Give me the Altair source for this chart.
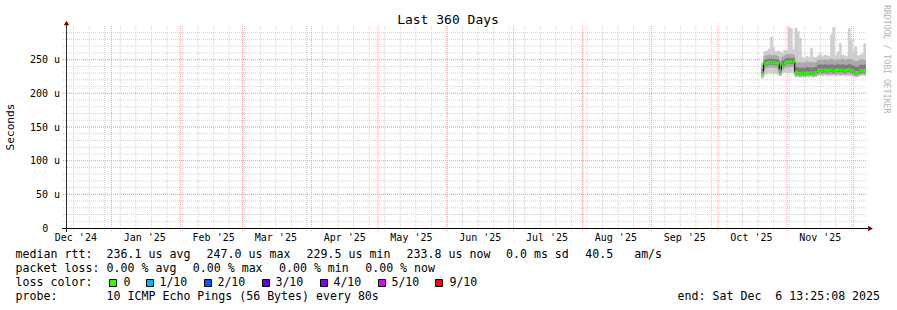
import altair as alt
import pandas as pd

FONT = "DejaVu Sans Mono"

# ---------------- data (microseconds), one value per day from 2025-10-20 12:00 UTC ----------------
data_start = "2025-10-20T12:00:00"
median_us = [231, 244, 245, 246, 245.5, 246, 245, 244.5, 234, 242.5,
             245, 246.5, 246.5, 247, 246.5, 231.5, 230, 229.5, 230, 229.5,
             230.5, 230, 230.5, 230, 231, 234, 234.5, 234, 235, 234,
             234.5, 235, 234, 234.5, 235, 234.5, 235, 234, 234.5, 235,
             234, 233, 231, 231.5, 234, 234, 233.8]
ping_min = [222, 228, 229, 230, 229, 230, 229, 228, 226, 230,
            231, 231, 230, 231, 230, 224, 225, 224, 225, 224,
            225, 224, 225, 224, 225, 226, 227, 226, 227, 226,
            227, 226, 227, 226, 227, 226, 227, 226, 227, 226,
            226, 225, 224, 225, 226, 227, 226]
ping_lo2 = [225, 236, 238, 239, 238, 239, 238, 237, 227, 235,
            238, 239, 239, 240, 239, 226, 226, 225, 226, 225,
            226, 226, 226, 225, 226, 228, 228, 228, 229, 228,
            228, 229, 228, 228, 229, 228, 229, 228, 228, 229,
            228, 227, 225, 226, 228, 228, 228]
ping_lo3 = [229, 241, 242, 243, 243, 243, 242, 242, 231, 240,
            242, 244, 244, 244, 244, 229, 228, 227, 228, 227,
            228, 228, 228, 228, 229, 231, 232, 231, 232, 231,
            232, 232, 231, 232, 232, 232, 232, 231, 232, 232,
            231, 230, 228, 229, 231, 231, 231]
ping_hi3 = [236, 249, 250, 251, 251, 251, 250, 250, 240, 248,
            250, 252, 252, 252, 252, 238, 238, 237, 238, 237,
            239, 238, 238, 238, 239, 242, 243, 242, 243, 242,
            242, 243, 242, 242, 243, 242, 243, 242, 242, 243,
            242, 241, 239, 239, 242, 242, 242]
ping_hi2 = [242, 255, 256, 257, 256, 257, 256, 255, 248, 254,
            256, 258, 258, 258, 257, 246, 245, 246, 245, 246,
            247, 246, 246, 245, 246, 249, 250, 249, 250, 249,
            250, 251, 250, 249, 250, 250, 251, 249, 250, 251,
            250, 249, 247, 248, 250, 250, 249]
ping_max = [246, 262, 263, 266, 284, 268, 262, 263, 262, 260,
            264, 263, 298, 296, 265, 297, 292, 282, 254, 252,
            255, 253, 267, 254, 253, 256, 259, 255, 257, 256,
            255, 287, 298, 256, 262, 274, 257, 256, 255, 296,
            280, 262, 269, 256, 257, 259, 274]

y_tick_values = [50, 100, 150, 200, 250]
y_tick_labels = ["50 u", "100 u", "150 u", "200 u", "250 u"]
y_zero_value = [0]
y_zero_label = ["0"]
month_label_dates = ["2024-12-16", "2025-01-16", "2025-02-16", "2025-03-16", "2025-04-16", "2025-05-16",
                     "2025-06-16", "2025-07-16", "2025-08-16", "2025-09-16", "2025-10-16", "2025-11-16"]
month_labels = ["Dec '24", "Jan '25", "Feb '25", "Mar '25", "Apr '25", "May '25",
                "Jun '25", "Jul '25", "Aug '25", "Sep '25", "Oct '25", "Nov '25"]

stat_rtt = ["236.1 us avg", "247.0 us max", "229.5 us min", "233.8 us now", "0.0 ms sd", "40.5\u00a0\u00a0\u00a0am/s"]
stat_loss = ["0.00 % avg", "0.00 % max", "0.00 % min", "0.00 % now"]
loss_labels = ["0", "1/10", "2/10", "3/10", "4/10", "5/10", "9/10"]
loss_colors = ["#26ff00", "#00b8ff", "#0059ff", "#5e00ff", "#7e00ff", "#dd00ff", "#ff0000"]
probe_text = "10 ICMP Echo Pings (56 Bytes) every 80s"
end_text = "end: Sat Dec\u00a0\u00a06 13:25:08 2025"
title_text = "Last 360 Days"

# ---------------- tables ----------------
fmt = "%Y-%m-%dT%H:%M:%SZ"
dates = pd.date_range(data_start, periods=len(median_us), freq="D")
df = pd.DataFrame({
    "t": dates.strftime(fmt),
    "t2": (dates + pd.Timedelta(days=1)).strftime(fmt),
    "median": median_us, "pmin": ping_min, "lo2": ping_lo2, "lo3": ping_lo3,
    "hi3": ping_hi3, "hi2": ping_hi2, "pmax": ping_max,
})
weeks = pd.date_range("2024-12-15", "2025-12-06", freq="7D")
months = pd.date_range("2025-01-01", "2025-12-01", freq="MS")
df_weeks = pd.DataFrame({"t": weeks.strftime(fmt)})
df_months = pd.DataFrame({"t": months.strftime(fmt)})
df_hminor = pd.DataFrame({"v": list(range(10, 300, 10))})
df_hmajor = pd.DataFrame({"v": [50, 100, 150, 200, 250]})
df_mlab = pd.DataFrame({"t": [d + "T00:00:00Z" for d in month_label_dates], "lab": month_labels})
df_ylab = pd.DataFrame({"v": y_tick_values, "lab": y_tick_labels})
df_ylab0 = pd.DataFrame({"v": y_zero_value, "lab": y_zero_label})
one = pd.DataFrame({"a": [0]})

OX, OY = 66, 26  # plot-area origin on the page

xscale = alt.Scale(type="utc", domain=[
    alt.DateTime(year=2024, month=12, date=11, hours=13, minutes=25, seconds=8, utc=True),
    alt.DateTime(year=2025, month=12, date=6, hours=13, minutes=25, seconds=8, utc=True)])
yscale = alt.Scale(domain=[0, 300], nice=False, zero=True)

MINOR = "#d2d2d2"
MAJOR = "#f4a0a0"

grid_v_minor = alt.Chart(df_weeks).mark_rule(color=MINOR, strokeDash=[1, 1], strokeWidth=1).encode(
    x=alt.X("t:T", scale=xscale, axis=None), y=alt.value(0), y2=alt.value(205))
grid_h_minor = alt.Chart(df_hminor).mark_rule(color=MINOR, strokeDash=[1, 1], strokeWidth=1).encode(
    y=alt.Y("v:Q", scale=yscale, axis=None), x=alt.value(-3), x2=alt.value(800))
grid_v_major = alt.Chart(df_months).mark_rule(color=MAJOR, strokeDash=[1, 1], strokeWidth=1).encode(
    x=alt.X("t:T", scale=xscale, axis=None), y=alt.value(0), y2=alt.value(205))
grid_h_major = alt.Chart(df_hmajor).mark_rule(color=MAJOR, strokeDash=[1, 1], strokeWidth=1).encode(
    y=alt.Y("v:Q", scale=yscale, axis=None), x=alt.value(-3), x2=alt.value(800))


def band(lo, hi, color):
    return alt.Chart(df).mark_rect(color=color, stroke=color, strokeWidth=0.4, clip=True).encode(
        x=alt.X("t:T", scale=xscale, axis=None),
        x2="t2:T",
        y=alt.Y(f"{lo}:Q", scale=yscale, axis=None),
        y2=f"{hi}:Q")


smoke1 = band("pmin", "pmax", "#cdcdcd")
smoke2 = band("lo2", "hi2", "#a9a9a9")
smoke3 = band("lo3", "hi3", "#7c7c7c")

median_line = alt.Chart(df).mark_line(interpolate="step-after", color="#000000", strokeWidth=1, clip=True).encode(
    x=alt.X("t:T", scale=xscale, axis=None), y=alt.Y("median:Q", scale=yscale, axis=None))
median_green = alt.Chart(df).transform_calculate(
    glo="datum.median - 2.2", ghi="datum.median + 2.2"
).mark_rect(color="#26ff00", clip=True).encode(
    x=alt.X("t:T", scale=xscale, axis=None), x2="t2:T",
    y=alt.Y("glo:Q", scale=yscale, axis=None), y2="ghi:Q")

# tick labels, drawn through the scales
x_labels = alt.Chart(df_mlab).mark_text(font=FONT, fontSize=10, color="#000000", align="center",
                                        baseline="alphabetic").encode(
    x=alt.X("t:T", scale=xscale, axis=None), y=alt.value(240.5 - OY), text="lab:N")
y_labels = alt.Chart(df_ylab).mark_text(font=FONT, fontSize=10, color="#000000", align="right",
                                        baseline="middle", dy=0.6).encode(
    y=alt.Y("v:Q", scale=yscale, axis=None), x=alt.value(60 - OX), text="lab:N")
y_label0 = alt.Chart(df_ylab0).mark_text(font=FONT, fontSize=10, color="#000000", align="right",
                                         baseline="middle", dy=0.6).encode(
    y=alt.Y("v:Q", scale=yscale, axis=None), x=alt.value(48.4 - OX), text="lab:N")

# axis lines and arrows
x_axis_line = alt.Chart(one).mark_rule(color="#000000", strokeWidth=1).encode(
    x=alt.value(62 - OX), x2=alt.value(868 - OX), y=alt.value(228.5 - OY))
y_axis_line = alt.Chart(one).mark_rule(color="#333333", strokeWidth=1).encode(
    y=alt.value(24 - OY), y2=alt.value(232 - OY), x=alt.value(66.5 - OX))
x_arrow = alt.Chart(one).mark_point(shape="triangle-right", filled=True, size=30, color="#7f0000", opacity=1).encode(
    x=alt.value(870.5 - OX), y=alt.value(228.5 - OY))
y_arrow = alt.Chart(one).mark_point(shape="triangle-up", filled=True, size=30, color="#7f0000", opacity=1).encode(
    x=alt.value(66.5 - OX), y=alt.value(23 - OY))


def txt(text, gx, gy, size=11.6, color="#000000", align="left", baseline="alphabetic", angle=0):
    kw = dict(text=text, font=FONT, fontSize=size, color=color, align=align, baseline=baseline)
    if angle:
        kw["angle"] = angle
    return alt.Chart(one).mark_text(**kw).encode(x=alt.value(gx - OX), y=alt.value(gy - OY))


texts = [
    txt(title_text, 448, 24, size=13, align="center"),
    txt("Seconds", 11, 127, size=11.2, align="center", baseline="middle", angle=270),
    txt("RRDTOOL / TOBI OETIKER", 886, 5, size=8.2, color="#b4b4b4", align="left", baseline="middle", angle=90),
]

row1_y, row2_y, row3_y, row4_y = 258.3, 272.3, 286.3, 300.3
texts.append(txt("median rtt:", 15.6, row1_y))
for s, gx in zip(stat_rtt, [106.6, 206.6, 306.6, 406.6, 506, 585.3]):
    texts.append(txt(s, gx, row1_y))
texts.append(txt("packet loss:", 15.6, row2_y))
for s, gx in zip(stat_loss, [106.6, 192.8, 279, 365.2]):
    texts.append(txt(s, gx, row2_y))
texts.append(txt("loss color:", 15.6, row3_y))
box_x = [109, 146, 204, 262, 320, 378, 435]
lab_x = [123.4, 159.4, 217.4, 275.4, 333.4, 391.4, 449.4]
boxes = []
for lab, col, bx, lx in zip(loss_labels, loss_colors, box_x, lab_x):
    boxes.append(alt.Chart(one).mark_rect(color=col, stroke="#000000", strokeWidth=1).encode(
        x=alt.value(bx + 0.5 - OX), x2=alt.value(bx + 7.5 - OX),
        y=alt.value(279.5 - OY), y2=alt.value(286.5 - OY)))
    texts.append(txt(lab, lx, row3_y))
texts.append(txt("probe:", 15.6, row4_y))
texts.append(txt(probe_text, 106.6, row4_y))
texts.append(txt(end_text, 677.6, row4_y))

chart = alt.layer(
    grid_v_minor, grid_h_minor, grid_v_major, grid_h_major,
    smoke1, smoke2, smoke3, median_line, median_green,
    x_axis_line, y_axis_line, x_arrow, y_arrow,
    x_labels, y_labels, y_label0,
    *boxes, *texts,
).properties(
    width=800, height=202,
    autosize=alt.AutoSizeParams(type="none"),
    padding={"left": OX, "top": OY, "right": 897 - OX - 800, "bottom": 310 - OY - 202},
    background="#ffffff",
).configure_view(strokeWidth=0)

chart.save("out.html", embed_options={"renderer": "svg", "actions": False})
